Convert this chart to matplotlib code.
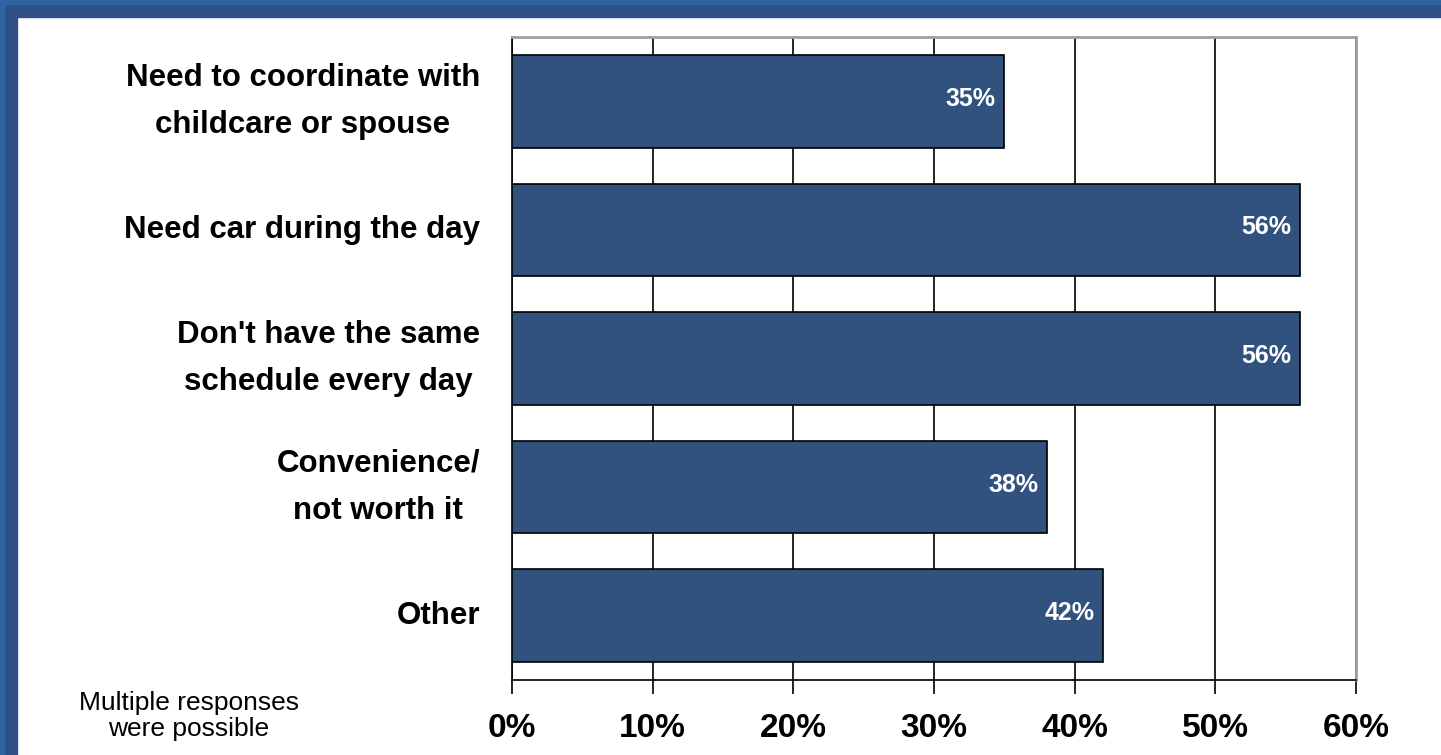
import matplotlib.pyplot as plt
from matplotlib.patches import Rectangle

plt.rcParams['font.family'] = ['Liberation Sans', 'DejaVu Sans']

categories = ["Need to coordinate with\nchildcare or spouse",
              "Need car during the day",
              "Don't have the same\nschedule every day",
              "Convenience/\nnot worth it",
              "Other"]
values = [35, 56, 56, 38, 42]
xticks = [0, 10, 20, 30, 40, 50, 60]
xticklabels = ["0%", "10%", "20%", "30%", "40%", "50%", "60%"]

W, H = 1441, 755
fig = plt.figure(figsize=(W / 100, H / 100), dpi=100)
fig.patch.set_facecolor('white')

# blue frame on left and top
fig.add_artist(Rectangle((0, 0), 17 / W, 1, transform=fig.transFigure, color='#2f5087', zorder=0))
fig.add_artist(Rectangle((0, 1 - 17 / H), 1, 17 / H, transform=fig.transFigure, color='#2f5087', zorder=0))
fig.add_artist(Rectangle((0, 0), 4 / W, 1, transform=fig.transFigure, color='#2f64a0', zorder=1))
fig.add_artist(Rectangle((0, 1 - 4 / H), 1, 4 / H, transform=fig.transFigure, color='#2f64a0', zorder=1))

ax = fig.add_axes([512 / W, 1 - 680 / H, (1356 - 512) / W, (680 - 37) / H])
ypos = list(range(len(categories)))
ax.barh(ypos, values, height=0.72, color='#31517f', edgecolor='black', linewidth=1.2, zorder=3)
ax.set_ylim(len(categories) - 0.5, -0.5)
ax.set_xlim(0, 60)

for y, v in zip(ypos, values):
    ax.text(v - 0.6, y - 0.02, f"{v}%", ha='right', va='center', color='white',
            fontsize=18, fontweight='bold', zorder=4)

ax.set_xticks(xticks)
ax.set_xticklabels(xticklabels, fontsize=24, fontweight='bold')
ax.tick_params(axis='x', length=10, width=1.2, color='black', pad=14)
ax.set_yticks(ypos)
ax.set_yticklabels(categories, fontsize=22.5, fontweight='bold', ha='right',
                   multialignment='center', linespacing=1.75)
for lab in ax.get_yticklabels():
    lab.set_verticalalignment('center')
ax.tick_params(axis='y', length=0, pad=23)
ax.grid(axis='x', color='black', linewidth=1.2, zorder=0)

for s in ['top', 'right']:
    ax.spines[s].set_color('#a0a0a0')
    ax.spines[s].set_linewidth(2)
ax.spines['left'].set_linewidth(1.2)
ax.spines['bottom'].set_linewidth(1.2)

fig.text(189 / W, 1 - 716 / H, "Multiple responses\nwere possible", ha='center', va='center',
         fontsize=19, linespacing=1.15)

fig.savefig('out.png', dpi=100)
